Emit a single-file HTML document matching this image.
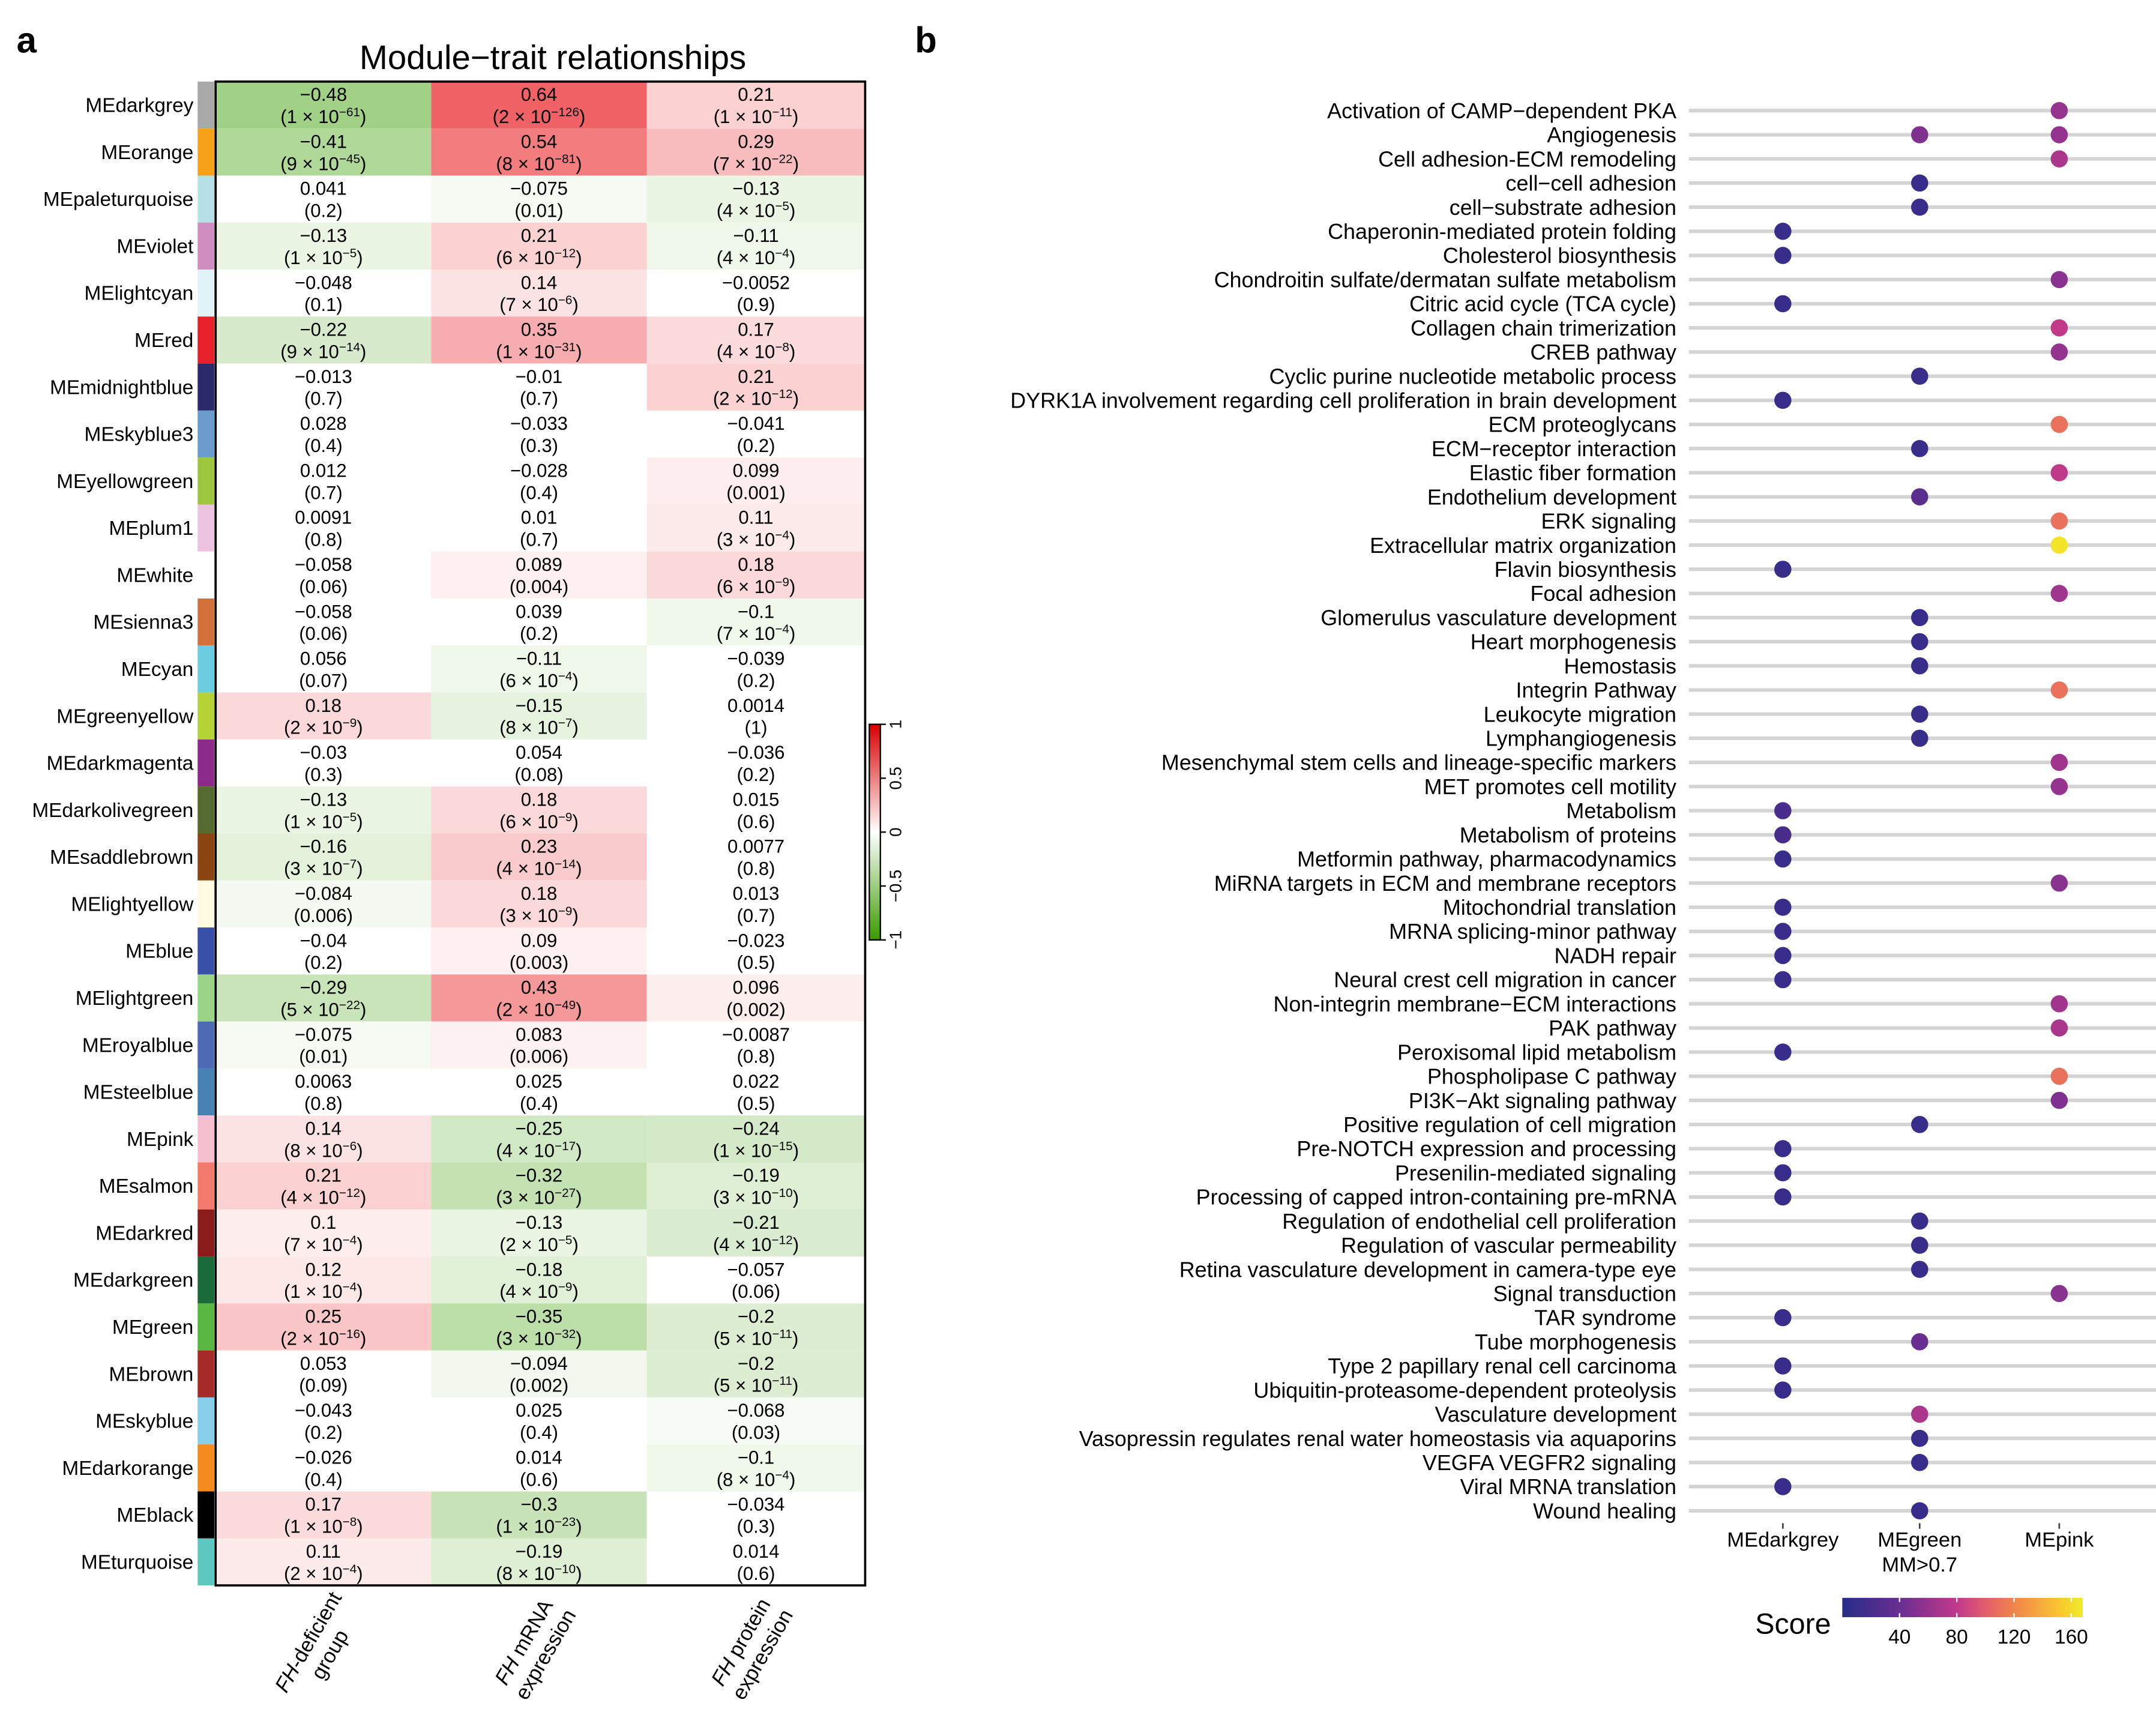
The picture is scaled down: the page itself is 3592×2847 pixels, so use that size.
<!DOCTYPE html>
<html><head><meta charset="utf-8">
<style>
html,body{margin:0;padding:0;background:#fff;}
svg{display:block;}
text{font-family:"Liberation Sans",sans-serif;}
.cell{font-family:"Liberation Sans Narrow","Liberation Sans",sans-serif;}
</style></head>
<body>
<svg id="fig" width="3592" height="2847" viewBox="0 0 1560 1236.4" xmlns="http://www.w3.org/2000/svg">
<text x="12" y="38" font-size="26" font-weight="bold">a</text>
<text x="662" y="38" font-size="26" font-weight="bold">b</text>
<text x="400" y="50" font-size="24.5" text-anchor="middle">Module−trait relationships</text>
<g id="heat"></g>
<g id="dots"></g>
</svg>
<script>
// ---- Heatmap data ----
const modules=["MEdarkgrey","MEorange","MEpaleturquoise","MEviolet","MElightcyan","MEred","MEmidnightblue","MEskyblue3","MEyellowgreen","MEplum1","MEwhite","MEsienna3","MEcyan","MEgreenyellow","MEdarkmagenta","MEdarkolivegreen","MEsaddlebrown","MElightyellow","MEblue","MElightgreen","MEroyalblue","MEsteelblue","MEpink","MEsalmon","MEdarkred","MEdarkgreen","MEgreen","MEbrown","MEskyblue","MEdarkorange","MEblack","MEturquoise"];
const moduleColors=["#a9a9a9","#f7a11a","#b4e0e6","#cf8ec0","#e0f4f8","#e8202a","#2a2a6a","#6a9ccd","#9dc63f","#ebc3df","#ffffff","#d4703c","#6dcde0","#b5d334","#8b2a8b","#556b2f","#8b4513","#fffbe0","#3a4fa8","#9ad486","#4e6ab5","#4682b4","#f6bfd0","#f47a6e","#8b1a1a","#1a6a3a","#5ab842","#a52a2a","#87ceeb","#f58a1f","#000000","#5cc8c0"];
const traits=[["FH-deficient","group"],["FH mRNA","expression"],["FH protein","expression"]];
const corDeficient=[-0.48,-0.41,0.041,-0.13,-0.048,-0.22,-0.013,0.028,0.012,0.0091,-0.058,-0.058,0.056,0.18,-0.03,-0.13,-0.16,-0.084,-0.04,-0.29,-0.075,0.0063,0.14,0.21,0.1,0.12,0.25,0.053,-0.043,-0.026,0.17,0.11];
const pDeficient=["1e-61","9e-45","0.2","1e-5","0.1","9e-14","0.7","0.4","0.7","0.8","0.06","0.06","0.07","2e-9","0.3","1e-5","3e-7","0.006","0.2","5e-22","0.01","0.8","8e-6","4e-12","7e-4","1e-4","2e-16","0.09","0.2","0.4","1e-8","2e-4"];
const corMRNA=[0.64,0.54,-0.075,0.21,0.14,0.35,-0.01,-0.033,-0.028,0.01,0.089,0.039,-0.11,-0.15,0.054,0.18,0.23,0.18,0.09,0.43,0.083,0.025,-0.25,-0.32,-0.13,-0.18,-0.35,-0.094,0.025,0.014,-0.3,-0.19];
const pMRNA=["2e-126","8e-81","0.01","6e-12","7e-6","1e-31","0.7","0.3","0.4","0.7","0.004","0.2","6e-4","8e-7","0.08","6e-9","4e-14","3e-9","0.003","2e-49","0.006","0.4","4e-17","3e-27","2e-5","4e-9","3e-32","0.002","0.4","0.6","1e-23","8e-10"];
const corProtein=[0.21,0.29,-0.13,-0.11,-0.0052,0.17,0.21,-0.041,0.099,0.11,0.18,-0.1,-0.039,0.0014,-0.036,0.015,0.0077,0.013,-0.023,0.096,-0.0087,0.022,-0.24,-0.19,-0.21,-0.057,-0.2,-0.2,-0.068,-0.1,-0.034,0.014];
const pProtein=["1e-11","7e-22","4e-5","4e-4","0.9","4e-8","2e-12","0.2","0.001","3e-4","6e-9","7e-4","0.2","1","0.2","0.6","0.8","0.7","0.5","0.002","0.8","0.5","1e-15","3e-10","4e-12","0.06","5e-11","5e-11","0.03","8e-4","0.3","0.6"];
const legendTicks=[1,0.5,0,-0.5,-1];

// ---- Dot plot data ----
const terms=["Activation of CAMP−dependent PKA","Angiogenesis","Cell adhesion-ECM remodeling","cell−cell adhesion","cell−substrate adhesion","Chaperonin-mediated protein folding","Cholesterol biosynthesis","Chondroitin sulfate/dermatan sulfate metabolism","Citric acid cycle (TCA cycle)","Collagen chain trimerization","CREB pathway","Cyclic purine nucleotide metabolic process","DYRK1A involvement regarding cell proliferation in brain development","ECM proteoglycans","ECM−receptor interaction","Elastic fiber formation","Endothelium development","ERK signaling","Extracellular matrix organization","Flavin biosynthesis","Focal adhesion","Glomerulus vasculature development","Heart morphogenesis","Hemostasis","Integrin Pathway","Leukocyte migration","Lymphangiogenesis","Mesenchymal stem cells and lineage-specific markers","MET promotes cell motility","Metabolism","Metabolism of proteins","Metformin pathway, pharmacodynamics","MiRNA targets in ECM and membrane receptors","Mitochondrial translation","MRNA splicing-minor pathway","NADH repair","Neural crest cell migration in cancer","Non-integrin membrane−ECM interactions","PAK pathway","Peroxisomal lipid metabolism","Phospholipase C pathway","PI3K−Akt signaling pathway","Positive regulation of cell migration","Pre-NOTCH expression and processing","Presenilin-mediated signaling","Processing of capped intron-containing pre-mRNA","Regulation of endothelial cell proliferation","Regulation of vascular permeability","Retina vasculature development in camera-type eye","Signal transduction","TAR syndrome","Tube morphogenesis","Type 2 papillary renal cell carcinoma","Ubiquitin-proteasome-dependent proteolysis","Vasculature development","Vasopressin regulates renal water homeostasis via aquaporins","VEGFA VEGFR2 signaling","Viral MRNA translation","Wound healing"];
const groups=["MEdarkgrey","MEgreen\nMM>0.7","MEpink"];
const ptTerm=[0,1,1,2,3,4,5,6,7,8,9,10,11,12,13,14,15,16,17,18,19,20,21,22,23,24,25,26,27,28,29,30,31,32,33,34,35,36,37,38,39,40,41,42,43,44,45,46,47,48,49,50,51,52,53,54,55,56,57,58];
const ptGroup=[2,1,2,2,1,1,0,0,2,0,2,2,1,0,2,1,2,1,2,2,0,2,1,1,1,2,1,1,2,2,0,0,0,2,0,0,0,0,2,2,0,2,2,1,0,0,0,1,1,1,2,0,1,0,0,1,1,1,0,1];
const ptScore=[60,50,60,70,10,10,10,10,55,10,80,60,10,10,110,10,80,30,110,165,10,65,10,10,10,110,10,10,65,60,20,20,10,55,10,10,10,10,65,70,10,110,50,10,10,10,10,10,10,10,55,10,40,10,10,70,10,10,10,10];
const scoreTicks=[40,80,120,160];

const NS="http://www.w3.org/2000/svg";
function mk(tag,attrs,parent,txt){const e=document.createElementNS(NS,tag);for(const k in attrs)e.setAttribute(k,attrs[k]);if(txt!==undefined)e.textContent=txt;parent.appendChild(e);return e;}

const hx0=156, colW=[156,156,158], hy0=59, rowH=34;
const colX=i=>hx0+colW.slice(0,i).reduce((a,b)=>a+b,0);
const rowY=i=>hy0+i*rowH;
function corColor(v){
  let a=Math.abs(v);
  if(a<0.06) return "#ffffff";
  a=Math.min(1,(a-0.03)/0.97*1.02);
  const c=v>=0?[232,10,16]:[57,157,0];
  return "rgb("+c.map(x=>Math.round(255+(x-255)*a)).join(",")+")";
}
const heat=document.getElementById('heat');
const cors=[corDeficient,corMRNA,corProtein], ps=[pDeficient,pMRNA,pProtein];
modules.forEach((m,i)=>{
  const y=rowY(i);
  const lab=mk('text',{x:140,y:y+rowH/2+5,'font-size':14.5,'text-anchor':'end'},heat,m);
  
  
  const sw=mk('rect',{x:143,y:y,width:12,height:rowH,fill:moduleColors[i]},heat);
  
  
  for(let j=0;j<3;j++){
    const x=colX(j), v=cors[j][i];
    const r=mk('rect',{x:x,y:y,width:colW[j],height:rowH,fill:corColor(v)},heat);
    
    
    const cx=x+colW[j]/2;
    const t1=mk('text',{x:cx,y:y+14,'font-size':13.5,'text-anchor':'middle','class':'cell'},heat,String(v).replace('-','−'));
    
    
    const p=ps[j][i];
    const t2=mk('text',{x:cx,y:y+30,'font-size':13.5,'text-anchor':'middle','class':'cell'},heat);
    
    
    if(p.includes('e')){
      const [man,ex]=p.split('e');
      mk('tspan',{},t2,'('+man+' × 10');
      mk('tspan',{dy:-5,'font-size':9},t2,ex.replace('-','−'));
      mk('tspan',{dy:5},t2,')');
    } else t2.textContent='('+p+')';
  }
});
const border=mk('rect',{x:hx0,y:hy0,width:470,height:rowH*modules.length,fill:'none',stroke:'#000','stroke-width':1.6},heat);


traits.forEach((t,j)=>{
  const cx=colX(j)+colW[j]/2;
  const g=mk('g',{transform:`translate(${cx-4},${1192}) rotate(-60)`},heat);
  
  
  const l1=mk('text',{x:0,y:-3,'font-size':15,'text-anchor':'middle'},g);
  mk('tspan',{'font-style':'italic'},l1,'FH');
  mk('tspan',{},l1,t[0].slice(2));
  mk('text',{x:0,y:15,'font-size':15,'text-anchor':'middle'},g,t[1]);
});
const defs=mk('defs',{},heat);
const lg=mk('linearGradient',{id:'rg',x1:0,y1:0,x2:0,y2:1},defs);
mk('stop',{offset:'0','stop-color':'#d80000'},lg);
mk('stop',{offset:'0.5','stop-color':'#ffffff'},lg);
mk('stop',{offset:'1','stop-color':'#3a9a00'},lg);
const ly0=524, ly1=680;
const ly=v=>ly0+(1-v)/2*(ly1-ly0);
const lb=mk('rect',{x:629,y:ly0,width:8,height:ly1-ly0,fill:'url(#rg)',stroke:'#000','stroke-width':1},heat);


legendTicks.forEach(v=>{
  const y=ly(v);
  mk('line',{x1:637,x2:641,y1:y,y2:y,stroke:'#000','stroke-width':1},heat);
  const t=mk('text',{x:0,y:0,'font-size':12,'text-anchor':'middle',transform:`translate(652,${y}) rotate(-90)`},heat,String(v).replace('-','−'));
  
  
});

const dots=document.getElementById('dots');
const ty0=80, tStep=(1093-80)/58;
const ty=i=>ty0+i*tStep;
const gx=[1290,1389,1490];
const stops=[[0,[39,45,135]],[0.24,[106,46,146]],[0.48,[194,58,138]],[0.6,[228,95,106]],[0.72,[242,134,74]],[0.9,[249,197,48]],[1,[240,236,40]]];
const sMax=168;
function plasma(s){
  const t=Math.max(0,Math.min(1,s/sMax));
  for(let k=1;k<stops.length;k++){if(t<=stops[k][0]){const a=stops[k-1],b=stops[k],f=(t-a[0])/(b[0]-a[0]);return 'rgb('+a[1].map((c,i)=>Math.round(c+(b[1][i]-c)*f)).join(',')+')';}}
  return 'rgb(240,236,40)';
}
terms.forEach((t,i)=>{
  const y=ty(i);
  const ln=mk('line',{x1:1222,x2:1560,y1:y,y2:y,stroke:'#d4d4d4','stroke-width':2.6},dots);
  
  
  const lab=mk('text',{x:1213,y:y+5.5,'font-size':15.6,'text-anchor':'end'},dots,t);
  
  
});
ptTerm.forEach((ti,k)=>{
  const c=mk('circle',{cx:gx[ptGroup[k]],cy:ty(ti),r:6.2,fill:plasma(ptScore[k])},dots);
  
  
});
groups.forEach((g,j)=>{
  mk('line',{x1:gx[j],x2:gx[j],y1:1102,y2:1106,stroke:'#444','stroke-width':1.2},dots);
  g.split('\n').forEach((s,li)=>{
    const t=mk('text',{x:gx[j],y:1119+li*18,'font-size':15,'text-anchor':'middle'},dots,s);
    
    
  });
});
const sg=mk('linearGradient',{id:'sg',x1:0,y1:0,x2:1,y2:0},defs);
stops.forEach(s=>mk('stop',{offset:s[0],'stop-color':'rgb('+s[1].join(',')+')'},sg));
const sx0=1333, sx1=1507;
const sx=v=>sx0+v/sMax*(sx1-sx0);
const st=mk('text',{x:1270,y:1182,'font-size':21},dots,'Score');


const sb=mk('rect',{x:sx0,y:1156,width:sx1-sx0,height:14,fill:'url(#sg)'},dots);


scoreTicks.forEach(v=>{
  mk('line',{x1:sx(v),x2:sx(v),y1:1156,y2:1159,stroke:'#fff','stroke-width':1},dots);
  mk('line',{x1:sx(v),x2:sx(v),y1:1167,y2:1170,stroke:'#fff','stroke-width':1},dots);
  const t=mk('text',{x:sx(v),y:1189,'font-size':14.5,'text-anchor':'middle'},dots,String(v));
  
  
});
</script>
</body></html>
